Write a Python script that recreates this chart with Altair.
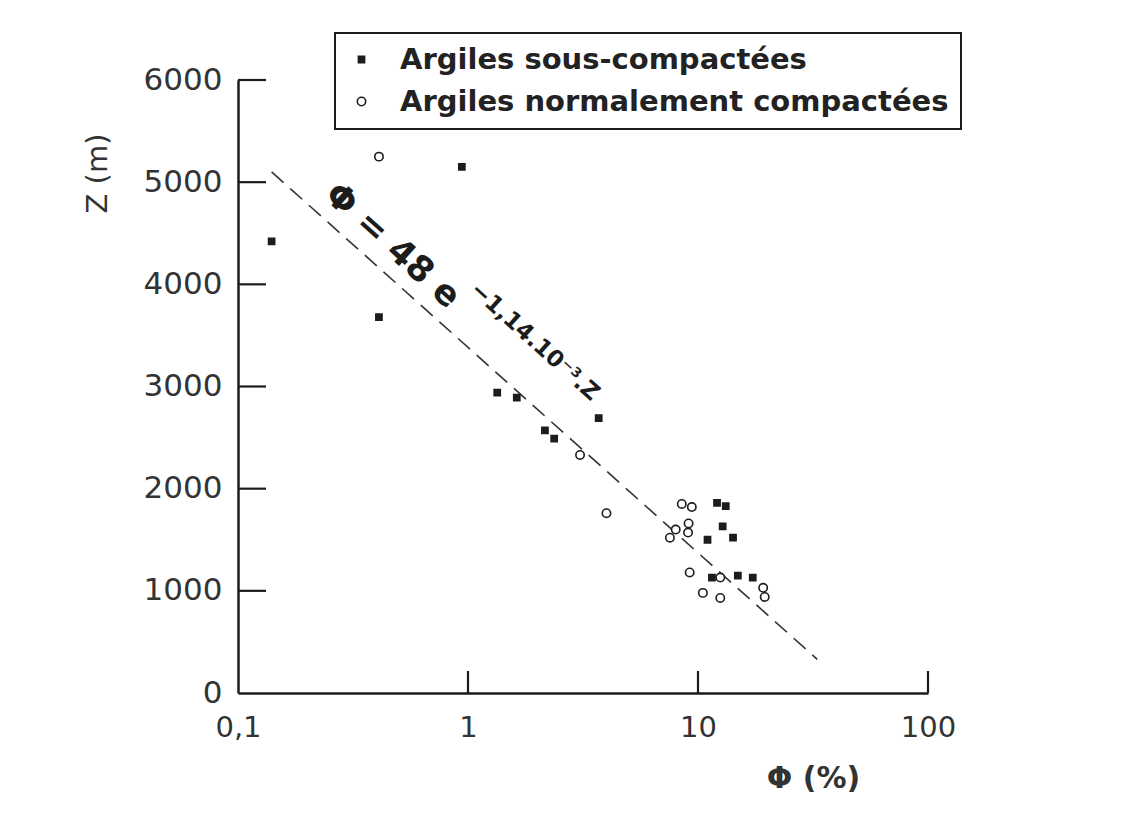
import altair as alt
import pandas as pd

# --- data ---
sous_phi = [0.94, 0.14, 0.41, 1.34, 1.63, 3.7, 2.16, 2.37, 12.1, 13.2, 11.0, 12.8, 14.2, 11.5, 14.9, 17.3]
sous_z = [5150, 4420, 3680, 2940, 2890, 2690, 2570, 2490, 1860, 1830, 1500, 1630, 1520, 1130, 1150, 1130]

norm_phi = [0.41, 3.07, 4.0, 8.5, 9.4, 9.1, 8.0, 9.05, 7.55, 9.2, 12.5, 19.2, 19.5, 10.5, 12.5]
norm_z = [5250, 2330, 1760, 1850, 1820, 1660, 1600, 1570, 1520, 1180, 1130, 1030, 940, 980, 930]

# end points of the dashed fit line  Phi = 48 e^(-1.14e-3 Z)
fit_phi = [0.14, 33]
fit_z = [5100, 330]

x_ticks = [0.1, 1, 10, 100]
y_ticks = [0, 1000, 2000, 3000, 4000, 5000, 6000]

label_sous = "Argiles sous-compactées"
label_norm = "Argiles normalement compactées"

pts = pd.DataFrame({
    "phi": sous_phi + norm_phi,
    "z": sous_z + norm_z,
    "type": [label_sous] * len(sous_phi) + [label_norm] * len(norm_phi),
})
fit = pd.DataFrame({"phi": fit_phi, "z": fit_z})
ann_main = pd.DataFrame({"phi": [0.47], "z": [4380], "txt": ["Φ = 48 e"]})
ann_exp = pd.DataFrame({"phi": [1.95], "z": [3441], "txt": ["−1,14.10⁻³.Z"]})
ytk = pd.DataFrame({"v": y_ticks[1:]})
xtk = pd.DataFrame({"v": x_ticks[1:]})

INK = "#1c1c1c"
W, H = 690, 613
DOM = [label_sous, label_norm]

xscale = alt.Scale(type="log", domain=[0.1, 100], nice=False)
yscale = alt.Scale(domain=[0, 6000], nice=False, zero=True)

xaxis = alt.Axis(
    values=x_ticks, labelExpr="datum.value < 1 ? '0,1' : toString(datum.value)",
    ticks=False, grid=False, domainColor=INK, domainWidth=2.5,
    labelFont="DejaVu Sans", labelFontSize=29, labelColor="#333",
    labelPadding=20, labelFlush=False,
    title="Φ (%)", titleFont="DejaVu Sans", titleFontSize=30, titleFontWeight="bold",
    titleColor="#333", titleX=575, titleY=85, titleAlign="center", titleBaseline="middle",
)
yaxis = alt.Axis(
    values=y_ticks, format="d", ticks=False, grid=False,
    domainColor=INK, domainWidth=2.5,
    labelFont="DejaVu Sans", labelFontSize=31, labelColor="#333",
    labelPadding=16, labelFlush=False,
    title="Z (m)", titleFont="DejaVu Sans", titleFontSize=29, titleFontWeight="normal",
    titleColor="#333", titleX=-141, titleY=93, titleAlign="center",
    titleBaseline="middle", titleAngle=270,
)

leg = alt.Legend(title=None)
points = alt.Chart(pts).mark_point(filled=True, strokeWidth=1.6, opacity=1).encode(
    x=alt.X("phi:Q", scale=xscale, axis=xaxis),
    y=alt.Y("z:Q", scale=yscale, axis=yaxis),
    fill=alt.Fill("type:N", scale=alt.Scale(domain=DOM, range=[INK, "white"]), legend=leg),
    stroke=alt.Stroke("type:N", scale=alt.Scale(domain=DOM, range=[INK, INK]), legend=leg),
    shape=alt.Shape("type:N", scale=alt.Scale(domain=DOM, range=["square", "circle"]), legend=leg),
    size=alt.Size("type:N", scale=alt.Scale(domain=DOM, range=[38, 70]), legend=leg),
)

line = alt.Chart(fit).mark_line(strokeDash=[16, 9], color="#333", strokeWidth=1.6).encode(
    x=alt.X("phi:Q", scale=xscale), y=alt.Y("z:Q", scale=yscale)
)

text_main = alt.Chart(ann_main).mark_text(angle=42, font="DejaVu Sans", fontWeight="bold", color=INK,
                                          fontSize=35, align="center", baseline="middle").encode(
    x=alt.X("phi:Q", scale=xscale), y=alt.Y("z:Q", scale=yscale), text="txt:N",
)
text_exp = alt.Chart(ann_exp).mark_text(angle=42, font="DejaVu Sans", fontWeight="bold", color=INK,
                                        fontSize=23, align="center", baseline="middle").encode(
    x=alt.X("phi:Q", scale=xscale), y=alt.Y("z:Q", scale=yscale), text="txt:N",
)

yticks = alt.Chart(ytk).mark_rule(color=INK, strokeWidth=2.2).encode(
    y=alt.Y("v:Q", scale=yscale), x=alt.value(0), x2=alt.value(28)
)
xticks = alt.Chart(xtk).mark_rule(color=INK, strokeWidth=2.2).encode(
    x=alt.X("v:Q", scale=xscale), y=alt.value(H), y2=alt.value(H - 22)
)

chart = alt.layer(line, yticks, xticks, points, text_main, text_exp).properties(
    width=W, height=H,
    autosize=alt.AutoSizeParams(type="none"),
    padding={"left": 238, "top": 80, "right": 204, "bottom": 120},
    background="white",
).configure_view(stroke=None).configure_legend(
    orient="none", legendX=97, legendY=-47,
    strokeColor=INK, strokeWidth=2, padding=12, fillColor="white",
    labelFont="DejaVu Sans", labelFontWeight="bold", labelFontSize=29, labelColor="#222",
    labelLimit=800, symbolStrokeWidth=1.6,
    labelOffset=24, rowPadding=12, symbolOffset=0,
)

chart.save("out.html", embed_options={"renderer": "svg", "actions": False})
